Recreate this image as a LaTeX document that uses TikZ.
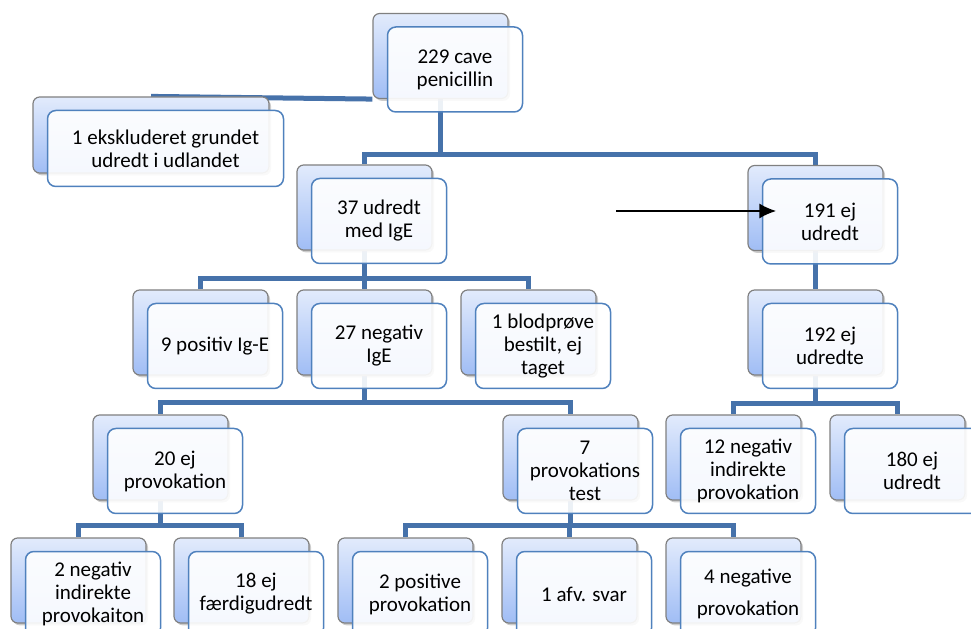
\documentclass[tikz,border=0pt]{standalone}
\usepackage{fontspec}
\setmainfont{Carlito}
\usetikzlibrary{shadows,arrows.meta}
\definecolor{linkblue}{RGB}{70,114,170}
\definecolor{boxblue}{RGB}{79,129,189}
\definecolor{backtop}{RGB}{226,235,252}
\definecolor{backbot}{RGB}{160,189,245}
\pgfdeclarelayer{bg}
\pgfsetlayers{bg,main}
\tikzstyle{back} = [draw=gray, line width=0.7pt, rounded corners=4pt, top color=backtop, bottom color=backbot,
  minimum width=81pt, minimum height=51pt, drop shadow={shadow xshift=1.2pt, shadow yshift=-1.4pt, opacity=0.4}]
\tikzstyle{front} = [draw=boxblue, line width=0.9pt, rounded corners=5pt, fill=white, fill opacity=0.9,
  text opacity=1, minimum width=81pt, minimum height=51pt, align=center, font=\fontsize{12.6}{13.8}\selectfont]
\tikzset{
  conn/.style ={draw=linkblue, line width=3pt},
  wide/.style ={minimum width=141.6pt, minimum height=45.6pt}
}
% back box + front box with the text
\newcommand{\pair}[5][]{%
  \node[back,#1] (#2-b) at (#3,#4) {};
  \node[front,#1] (#2) at (#3+14.5,#4+13.5) {#5};}

\begin{document}
\begin{tikzpicture}[x=0.6pt,y=-0.6pt]
  \useasboundingbox (0,0) rectangle (971,629);
  \clip (0,0) rectangle (971,629);

  \pair{root}{440.5}{56}{229 cave\\penicillin}
  \pair[wide]{excl}{151}{135}{1 ekskluderet grundet\\udredt i udlandet}
  \pair{udr37}{364.5}{207.5}{37 udredt\\med IgE}
  \pair{ej191}{815.5}{208}{191 ej\\udredt}
  \pair{pos9}{200.5}{332.5}{9 positiv Ig-E}
  \pair{neg27}{364.5}{332.5}{27 negativ\\IgE}
  \pair{blod1}{528.5}{332.5}{1 blodprøve\\bestilt, ej\\taget}
  \pair{ej192}{815.5}{332.5}{192 ej\\udredte}
  \pair{ej20}{160.5}{457.5}{20 ej\\provokation}
  \pair{prov7}{570.5}{457.5}{7\\provokations\\test}
  \pair{neg12}{733.5}{457.5}{12 negativ\\indirekte\\provokation}
  \pair{ej180}{897.5}{457.5}{180 ej\\udredt}
  \pair{neg2}{78.5}{580.5}{2 negativ\\indirekte\\provokaiton}
  \pair{ej18}{241.5}{580.5}{18 ej\\færdigudredt}
  \pair{pos2}{405.5}{580.5}{2 positive\\provokation}
  \pair{afv1}{569.5}{580.5}{1 afv. svar}
  \pair{neg4}{733.5}{580.5}{4 negative\\[5pt]provokation}

  \begin{pgfonlayer}{bg}
    \begin{scope}[every path/.style=conn]
      \path (excl-b.north) -- (root-b.south west);
      \path (root-b.south) -- ++(0,55) -| (udr37-b.north);
      \path (root-b.south) -- ++(0,55) -| (ej191-b.north);
      \path (udr37-b.south) -- ++(0,28) -| (pos9-b.north);
      \path (udr37-b.south) -- ++(0,28) -| (neg27-b.north);
      \path (udr37-b.south) -- ++(0,28) -| (blod1-b.north);
      \path (ej191-b.south) -- (ej192-b.north);
      \path (neg27-b.south) -- ++(0,27) -| (ej20-b.north);
      \path (neg27-b.south) -- ++(0,27) -| (prov7-b.north);
      \path (ej192-b.south) -- ++(0,28) -| (neg12-b.north);
      \path (ej192-b.south) -- ++(0,28) -| (ej180-b.north);
      \path (ej20-b.south) -- ++(0,25) -| (neg2-b.north);
      \path (ej20-b.south) -- ++(0,25) -| (ej18-b.north);
      \path (prov7-b.south) -- ++(0,25) -| (pos2-b.north);
      \path (prov7-b.south) -- ++(0,25) -| (afv1-b.north);
      \path (prov7-b.south) -- ++(0,25) -| (neg4-b.north);
    \end{scope}
  \end{pgfonlayer}

  \coordinate (arrstart) at (616,211);
  \coordinate (arrtip) at (776,211);
  \draw[line width=0.8pt, -{Latex[length=10pt,width=9pt]}] (arrstart) -- (arrtip);

\end{tikzpicture}
\end{document}
